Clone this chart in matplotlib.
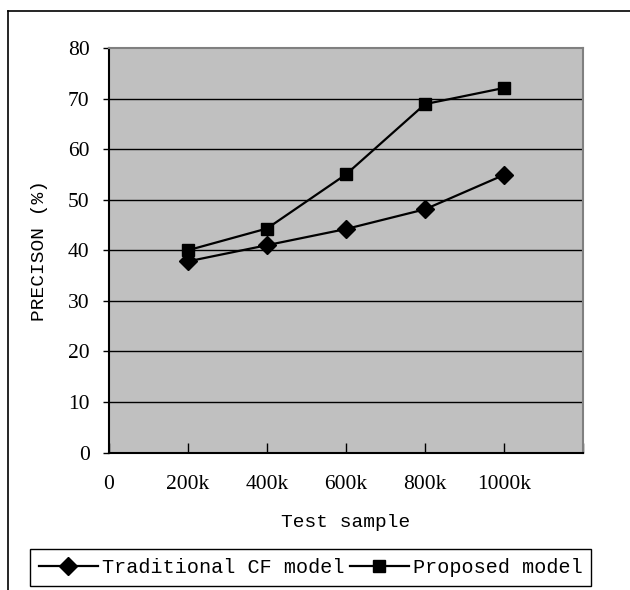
import matplotlib
matplotlib.use('Agg')
import matplotlib.pyplot as plt
from matplotlib.lines import Line2D

# ── Données ───────────────────────────────────────────────────────────────────
samples = [200, 400, 600, 800, 1000]          # taille de l'échantillon (k)
precision_cf = [37.8, 41.0, 44.2, 48.1, 54.9]  # Traditional CF model
precision_new = [40.0, 44.3, 55.0, 68.9, 72.1] # Proposed model
x_ticks = [0, 200, 400, 600, 800, 1000, 1200]
x_ticklabels = ['0', '200k', '400k', '600k', '800k', '1000k', '']
y_ticks = [0, 10, 20, 30, 40, 50, 60, 70, 80]

MONO = 'Liberation Mono'
SERIF = 'Liberation Serif'

fig = plt.figure(figsize=(6.3, 5.9), dpi=100)
ax = fig.add_axes([109 / 630, 1 - 452.5 / 590, (583 - 109) / 630, (452.5 - 48) / 590])
ax.set_facecolor('#c0c0c0')

# lignes horizontales de la grille
for y in y_ticks[1:-1]:
    ax.axhline(y, color='black', linewidth=1.0, zorder=1)

ax.plot(samples, precision_cf, color='black', linewidth=1.6, marker='D',
        markersize=9, label='Traditional CF model', zorder=3)
ax.plot(samples, precision_new, color='black', linewidth=1.6, marker='s',
        markersize=8.5, label='Proposed model', zorder=3)

ax.set_xlim(0, 1200)
ax.set_ylim(0, 80)
ax.set_xticks(x_ticks)
ax.set_xticklabels(x_ticklabels, fontfamily=SERIF, fontsize=15.5)
ax.set_yticks(y_ticks)
ax.set_yticklabels([str(v) for v in y_ticks], fontfamily=SERIF, fontsize=15.5)
ax.tick_params(axis='x', direction='in', length=7, width=1, pad=16.5)
ax.tick_params(axis='y', direction='out', length=4, width=1, pad=10)

for side in ('left', 'bottom'):
    ax.spines[side].set_color('black')
    ax.spines[side].set_linewidth(1.5)
for side in ('top', 'right'):
    ax.spines[side].set_color('#808080')
    ax.spines[side].set_linewidth(1.5)

ax.set_xlabel('Test sample', fontfamily=MONO, fontsize=14, labelpad=14)
ax.set_ylabel('PRECISON (%)', fontfamily=MONO, fontsize=14, labelpad=14)

leg = fig.legend(loc='center', bbox_to_anchor=(0.4934, 0.0375), ncol=2,
                 prop={'family': MONO, 'size': 14.5}, frameon=True,
                 fancybox=False, edgecolor='black', framealpha=1,
                 handlelength=2.9, handletextpad=0.2, columnspacing=0.3,
                 borderpad=0.45, borderaxespad=0)
leg.get_frame().set_linewidth(1.0)

# cadre extérieur (gauche et haut)
fig.add_artist(Line2D([8 / 630, 8 / 630], [0, 1 - 11 / 590],
                      transform=fig.transFigure, color='black', linewidth=1.2))
fig.add_artist(Line2D([8 / 630, 1], [1 - 11 / 590, 1 - 11 / 590],
                      transform=fig.transFigure, color='black', linewidth=1.2))

fig.savefig('out.png', dpi=100, facecolor='white')
